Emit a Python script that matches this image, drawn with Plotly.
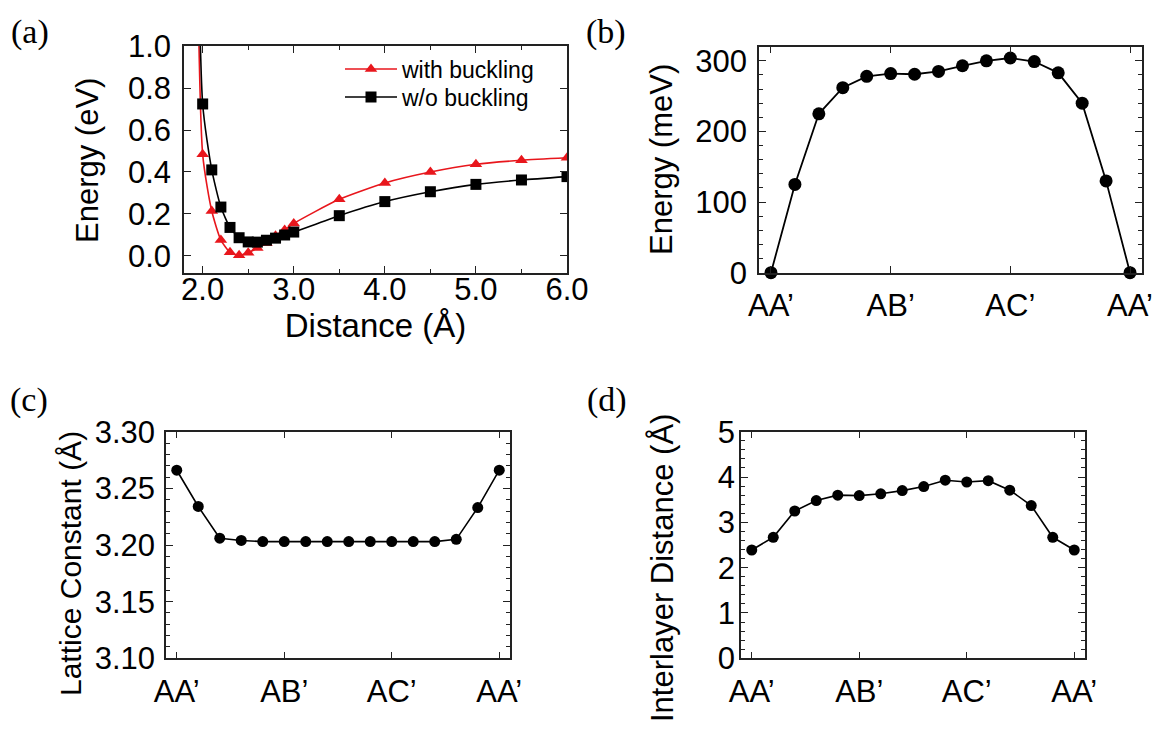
import plotly.graph_objects as go

# ---------------- data ----------------
# (a) binding energy vs distance
dist = [1.9, 2.0, 2.1, 2.2, 2.3, 2.4, 2.5, 2.6, 2.7, 2.8, 2.9, 3.0, 3.5, 4.0, 4.5, 5.0, 5.5, 6.0]
e_with = [2.9, 0.484, 0.214, 0.076, 0.018, 0.003, 0.015, 0.038, 0.062, 0.096, 0.124, 0.155, 0.270, 0.348, 0.400, 0.437, 0.456, 0.468]
e_without = [3.4, 0.724, 0.410, 0.233, 0.136, 0.087, 0.067, 0.066, 0.075, 0.085, 0.100, 0.114, 0.192, 0.259, 0.306, 0.341, 0.362, 0.378]

# (b)-(d) along the sliding path
path_idx = list(range(16))
path_ticks = [0, 5, 10, 15]
path_labels = ["AA\u2019", "AB\u2019", "AC\u2019", "AA\u2019"]
energy_mev = [0, 125, 225, 262, 278, 282, 281, 285, 293, 300, 304, 299, 283, 240, 130, 0]
lattice = [3.266, 3.234, 3.206, 3.204, 3.203, 3.203, 3.203, 3.203, 3.203, 3.203, 3.203, 3.203, 3.203, 3.205, 3.233, 3.266]
interlayer = [2.39, 2.67, 3.25, 3.48, 3.60, 3.59, 3.63, 3.70, 3.79, 3.93, 3.89, 3.92, 3.71, 3.37, 2.67, 2.39]

# page has an 8px body margin; size the figure so it fills the 1162x734 window
OFF = 8
W, H = 1162 - 2 * OFF, 734 - 2 * OFF
FONT = "Liberation Sans, Arial, sans-serif"

def fx(p):
    return (p - OFF) / W

def fy(p):
    return 1 - (p - OFF) / H

def px_x(a, b):
    return [fx(a), fx(b)]

def px_y(top, bottom):
    return [fy(bottom), fy(top)]

fig = go.Figure()

RED = "#e8161c"
fig.add_trace(go.Scatter(x=dist, y=e_with, mode="lines+markers", name="with buckling",
                         line=dict(color=RED, width=1.6, shape="spline", smoothing=0.6),
                         marker=dict(symbol="triangle-up", size=11, color=RED),
                         cliponaxis=True, xaxis="x", yaxis="y", legend="legend"))
fig.add_trace(go.Scatter(x=dist, y=e_without, mode="lines+markers", name="w/o buckling",
                         line=dict(color="black", width=1.6, shape="spline", smoothing=0.6),
                         marker=dict(symbol="square", size=11, color="black"),
                         cliponaxis=True, xaxis="x", yaxis="y", legend="legend2"))
fig.add_trace(go.Scatter(x=path_idx, y=energy_mev, mode="lines+markers", showlegend=False,
                         line=dict(color="black", width=1.8),
                         marker=dict(symbol="circle", size=13, color="black"),
                         cliponaxis=False, xaxis="x2", yaxis="y2"))
fig.add_trace(go.Scatter(x=path_idx, y=lattice, mode="lines+markers", showlegend=False,
                         line=dict(color="black", width=1.6),
                         marker=dict(symbol="circle", size=11, color="black"),
                         cliponaxis=False, xaxis="x3", yaxis="y3"))
fig.add_trace(go.Scatter(x=path_idx, y=interlayer, mode="lines+markers", showlegend=False,
                         line=dict(color="black", width=1.6),
                         marker=dict(symbol="circle", size=11, color="black"),
                         cliponaxis=False, xaxis="x4", yaxis="y4"))

frame = dict(showline=True, linecolor="#222", linewidth=1.5, mirror="ticks",
             ticks="inside", tickcolor="#222", tickwidth=1.2, ticklen=7,
             showgrid=False, zeroline=False, automargin=False,
             tickfont=dict(family=FONT, size=31, color="black"))
xtitle_font = dict(family=FONT, size=33, color="black")
legend_common = dict(xanchor="left", yanchor="middle", bgcolor="rgba(0,0,0,0)",
                     font=dict(family=FONT, size=23, color="black"), itemwidth=52)

fig.update_layout(
    width=W, height=H, margin=dict(l=0, r=0, t=0, b=0, autoexpand=False),
    paper_bgcolor="white", plot_bgcolor="white", showlegend=True,
    xaxis=dict(**frame, domain=px_x(184, 567), anchor="y", range=[1.795, 6.0],
               dtick=1, tick0=2, tickformat=".1f", ticklabelstandoff=-12,
               minor=dict(dtick=0.5, tick0=2, ticks="inside", ticklen=4, tickcolor="#222"),
               title=dict(text="Distance (\u00c5)", font=xtitle_font, standoff=0)),
    yaxis=dict(**frame, domain=px_y(46, 273), anchor="x", range=[-0.081, 1.0],
               dtick=0.2, tick0=0, tickformat=".1f", ticklabelstandoff=5),
    xaxis2=dict(**frame, domain=px_x(759, 1142), anchor="y2", range=[-0.5, 15.5],
                tickvals=path_ticks, ticktext=path_labels, ticklabelstandoff=4),
    yaxis2=dict(**frame, domain=px_y(46.7, 272.7), anchor="x2", range=[0, 320],
                dtick=100, tick0=0, ticklabelstandoff=4,
                minor=dict(dtick=20, tick0=0, ticks="inside", ticklen=4, tickcolor="#222")),
    xaxis3=dict(**frame, domain=px_x(166, 510), anchor="y3", range=[-0.5, 15.5],
                tickvals=path_ticks, ticktext=path_labels, ticklabelstandoff=5),
    yaxis3=dict(**frame, domain=px_y(431.7, 658.3), anchor="x3", range=[3.10, 3.30],
                dtick=0.05, tick0=3.10, tickformat=".2f", ticklabelstandoff=3,
                minor=dict(dtick=0.01, tick0=3.10, ticks="inside", ticklen=4, tickcolor="#222")),
    xaxis4=dict(**frame, domain=px_x(741, 1085), anchor="y4", range=[-0.5, 15.5],
                tickvals=path_ticks, ticktext=path_labels, ticklabelstandoff=5),
    yaxis4=dict(**frame, domain=px_y(431.7, 658.3), anchor="x4", range=[0, 5],
                dtick=1, tick0=0, ticklabelstandoff=-2,
                minor=dict(dtick=0.2, tick0=0, ticks="inside", ticklen=4, tickcolor="#222")),
    legend=dict(**legend_common, x=fx(340), y=fy(69)),
    legend2=dict(**legend_common, x=fx(340), y=fy(97)),
)

# y-axis titles (rotated)
ytitles = [("Energy (eV)", 87, 161, 31), ("Energy (meV)", 661, 160, 31),
           ("Lattice Constant (\u00c5)", 70, 564, 30), ("Interlayer Distance (\u00c5)", 662, 568, 31)]
for txt, tx, ty, fs in ytitles:
    fig.add_annotation(text=txt, x=fx(tx), y=fy(ty), xref="paper", yref="paper",
                       xanchor="center", yanchor="middle", showarrow=False, textangle=-90,
                       font=dict(family=FONT, size=fs, color="black"))

labels = [("(a)", 30, 32), ("(b)", 606, 32), ("(c)", 29, 400), ("(d)", 607, 400)]
for txt, lx, ly in labels:
    fig.add_annotation(text=txt, x=fx(lx), y=fy(ly), xref="paper", yref="paper",
                       xanchor="center", yanchor="middle", showarrow=False,
                       font=dict(family="Liberation Serif, Times New Roman, serif", size=34, color="black"))

fig.write_html("out.html")
